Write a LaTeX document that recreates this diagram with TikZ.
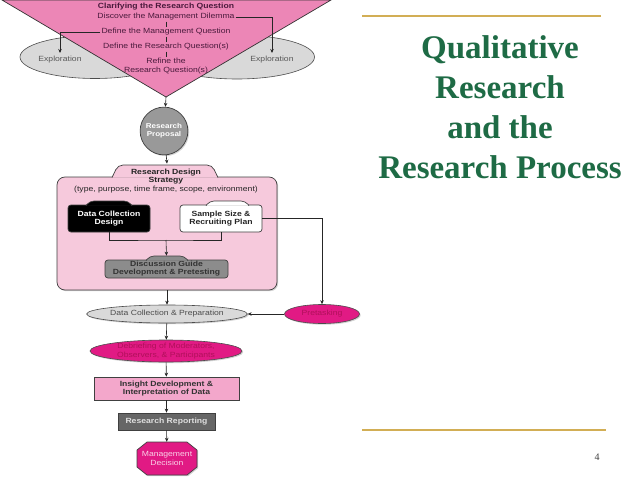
\documentclass[tikz,border=0pt]{standalone}
\usepackage{fontspec}
\setmainfont{Liberation Serif}
\newfontfamily\dfont[FakeStretch=1.15]{Liberation Sans}
\usetikzlibrary{arrows.meta,positioning,shapes.geometric,shadows}
\definecolor{tripink}{HTML}{EC86B6}
\definecolor{rdpink}{HTML}{F6C9DC}
\definecolor{inspink}{HTML}{F3A7CB}
\definecolor{magen}{HTML}{E11A84}
\definecolor{magtext}{HTML}{B0105A}
\definecolor{qcol}{HTML}{4A1A3C}
\definecolor{title}{HTML}{1E6B45}
\definecolor{gold}{HTML}{D2AE55}

\begin{document}
\begin{tikzpicture}[x=1pt,y=-1pt,font=\dfont\fontsize{7.5}{8.5}\selectfont,
box/.style={draw=black!75,line width=.7pt,align=center,inner sep=1pt},
oval/.style={ellipse,draw=black!70,line width=.6pt,align=center,inner sep=0pt},
qtext/.style={text=qcol,align=center,inner sep=1pt},
shd/.style={drop shadow={shadow xshift=1.2pt,shadow yshift=-1.2pt,fill=black!35}},
ln/.style={draw=black!85,line width=.6pt},
arr/.style={ln,-{Stealth[length=4pt,width=3.5pt]}}]
\useasboundingbox[fill=white](0,0)rectangle(638,479);
% clarifying the research question
\node[oval,fill=black!15,minimum width=150,minimum height=43](exLo)at(95,57){};
\node[oval,fill=black!15,minimum width=155,minimum height=44](exRo)at(237,57){};
\node[text=black!65](exL)at(60,60){Exploration};
\node[text=black!65](exR)at(272,60){Exploration};
\draw[draw=black!80,line width=.7pt,fill=tripink](2,0)--(331,0)--(166,97)coordinate(apex)--cycle;
\node[qtext,font=\dfont\bfseries\fontsize{7.5}{8.5}\selectfont](q0)at(166,7){Clarifying the Research Question};
\node[qtext](q1)at(166,17){Discover the Management Dilemma};
\node[qtext](q2)at(166,32){Define the Management Question};
\node[qtext](q3)at(166,47){Define the Research Question(s)};
\node[qtext](q4)at(166,66){Refine the\\Research Question(s)};
\draw[ln](q1)--(q2);\draw[ln](q2)--(q3);\draw[ln](q3)--(q4);
\draw[arr](q2.west)-|(exL.north);
\draw[arr](q1.east)-|(exR.north);
% proposal and design
\node[circle,draw=black!75,line width=.7pt,fill=black!40,minimum size=45,align=center,
  text=white,font=\dfont\bfseries\fontsize{7}{8}\selectfont,shd](prop)at(164,131){Research\\Proposal};
\draw[arr](apex)--(prop);
\node[box,rounded corners=8pt,fill=rdpink,minimum width=220,minimum height=113,shd](rds)at(167,233.5){};
\draw[box,fill=rdpink,rounded corners=5pt](112,177.6)--(118,165)--(212,165)--(218,177.6);
\node[qtext,text=black!85,font=\dfont\bfseries\fontsize{7.5}{8}\selectfont](rdsT)at(166,177){Research Design\\Strategy};
\node[qtext,text=black!85](rdsS)at(166,190){(type, purpose, time frame, scope, environment)};
\draw[arr](prop)--([yshift=13pt]rds.north);
\node[box,rounded corners=3pt,fill=black,text=white,minimum width=82,minimum height=27,
  font=\dfont\bfseries\fontsize{7.5}{8.5}\selectfont](dcd)at(109,218.5){Data Collection\\Design};
\draw[box,fill=black,rounded corners=4pt](86,205.6)--(90,201)--(128,201)--(132,205.6);
\node[box,rounded corners=3pt,fill=white,text=black!85,minimum width=82,minimum height=27,
  font=\dfont\bfseries\fontsize{7.5}{8.5}\selectfont](ssrp)at(221,218.5){Sample Size \&\\Recruiting Plan};
\draw[box,fill=white,rounded corners=4pt](206,205.6)--(210,201)--(245,201)--(249,205.6);
\node[box,rounded corners=3pt,fill=black!45,text=black!80,minimum width=123,minimum height=18,
  font=\dfont\bfseries\fontsize{7.5}{8}\selectfont](dg)at(166.5,269){Discussion Guide\\Development \& Pretesting};
\draw[box,fill=black!45,rounded corners=4pt](146,260.6)--(150,256)--(184,256)--(188,260.6);
\coordinate(join)at(166,240);
\draw[ln](dcd.south)|-(join)-|(ssrp.south);
\draw[arr](join)--([yshift=4pt]dg.north);
% data collection to decision
\node[oval,fill=black!15,text=black!70,minimum width=151,minimum height=18,shd](dcp)at(167,314){Data Collection \& Preparation};
\node[oval,fill=magen,text=magtext,minimum width=75,minimum height=19,shd](pret)at(322,314){Pretasking};
\draw[arr](ssrp.east)-|(pret.north);
\draw[arr](rds.south)--(dcp.north);
\draw[arr](pret.west)--(dcp.east);
\node[oval,fill=magen,text=magtext,minimum width=152,minimum height=22,shd](dbr)at(166,351){Debriefing of Moderators,\\Observers, \& Participants};
\draw[arr](dcp)--(dbr);
\node[box,fill=inspink,text=black!80,minimum width=145,minimum height=23,shd,
  font=\dfont\bfseries\fontsize{7.5}{8.5}\selectfont](ins)at(166.5,388.5){Insight Development \&\\Interpretation of Data};
\draw[arr](dbr)--(ins);
\node[box,fill=black!60,text=black!12,minimum width=97,minimum height=17,shd,
  font=\dfont\bfseries\fontsize{7.5}{8.5}\selectfont](rep)at(166.5,421.5){Research Reporting};
\draw[arr](ins)--(rep);
\draw[draw=black!75,line width=.7pt,fill=magen,drop shadow={shadow xshift=1.2pt,shadow yshift=-1.2pt,fill=black!35}]
  (147,442)--(187,442)--(197,450)--(197,467)--(187,475)--(147,475)--(137,467)--(137,450)--cycle;
\node[align=center,text=magen!20,minimum height=33,inner sep=0pt](dec)at(167,458.5){Management\\Decision};
\draw[arr](rep)--(dec);
% title panel
\draw[gold,line width=1.5pt](362,16)--(601,16);
\node[text=title,align=center,font=\bfseries\fontsize{33}{40}\selectfont](ttl)at(500,107){Qualitative\\Research\\and the\\Research Process};
\draw[gold,line width=1.5pt](362,430)--(606,430);
\node[text=black!75,font=\fontsize{10}{12}\selectfont](pg)at(597,457){4};
\end{tikzpicture}
\end{document}
